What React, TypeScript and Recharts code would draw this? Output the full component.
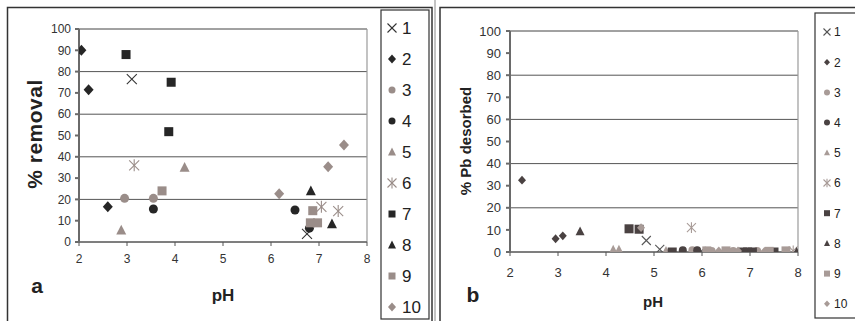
import React from 'react';
import { ScatterChart, Scatter, XAxis, YAxis, CartesianGrid, ReferenceLine } from 'recharts';

type Pt = [number, number];

// Series labels and marker styles (1..10)
const seriesNames = ['1', '2', '3', '4', '5', '6', '7', '8', '9', '10'];
const markerKinds = ['cross', 'diamond', 'circle', 'circle', 'triangle', 'star', 'square', 'triangle', 'square', 'diamond'];
const markerTones = ['line', 'dark', 'light', 'dark', 'light', 'light', 'dark', 'dark', 'light', 'light'];

const phTicks = [2, 3, 4, 5, 6, 7, 8];
const percentTicks = [0, 10, 20, 30, 40, 50, 60, 70, 80, 90, 100];

// Panel a: % removal vs pH  ([pH, %])
const removal1: Pt[] = [[3.1, 76.5], [6.75, 3.8]];
const removal2: Pt[] = [[2.05, 90], [2.2, 71.5], [2.6, 16.5]];
const removal3: Pt[] = [[2.95, 20.5], [3.55, 20.5]];
const removal4: Pt[] = [[3.55, 15.5], [6.5, 15], [6.8, 6.5]];
const removal5: Pt[] = [[2.88, 5.5], [4.2, 35]];
const removal6: Pt[] = [[3.15, 36], [7.05, 16.5], [7.4, 14.5]];
const removal7: Pt[] = [[2.98, 88], [3.92, 75], [3.87, 51.8]];
const removal8: Pt[] = [[6.83, 24], [7.27, 8.5]];
const removal9: Pt[] = [[3.73, 24], [6.87, 14.7], [6.82, 9], [6.97, 9]];
const removal10: Pt[] = [[7.52, 45.5], [7.19, 35.3], [6.17, 22.7]];

// Panel b: % Pb desorbed vs pH  ([pH, %])
const desorb1: Pt[] = [[4.84, 5.2], [5.12, 1.2], [5.98, 0.3]];
const desorb2: Pt[] = [[2.25, 32.5], [2.95, 6], [3.1, 7.3]];
const desorb3: Pt[] = [[5.8, 0.8], [6.2, 0.5], [6.65, 0.5], [7.15, 0.5]];
const desorb4: Pt[] = [[5.6, 0.8], [5.9, 0.8]];
const desorb5: Pt[] = [[4.15, 1], [4.27, 1], [5.25, 0.5]];
const desorb6: Pt[] = [[5.78, 11], [7.9, 0.5]];
const desorb7: Pt[] = [[4.48, 10.5], [4.69, 10.3], [5.38, 0], [6.85, 0], [6.95, 0], [7.05, 0], [7.5, 0]];
const desorb8: Pt[] = [[3.46, 9.3], [7.97, 0]];
const desorb9: Pt[] = [[6.1, 0.5], [6.5, 0.5], [7.4, 0.3], [7.75, 0.5]];
const desorb10: Pt[] = [[4.73, 11], [6.35, 0.5], [6.75, 0.5], [7.3, 0.3]];

const removalSeries = [removal1, removal2, removal3, removal4, removal5, removal6, removal7, removal8, removal9, removal10];
const desorbSeries = [desorb1, desorb2, desorb3, desorb4, desorb5, desorb6, desorb7, desorb8, desorb9, desorb10];

const FONT = '"Liberation Sans", Arial, sans-serif';

type Palette = { dark: string; light: string; line: string };
const paletteA: Palette = { dark: '#262626', light: '#9a8d89', line: '#333333' };
const paletteB: Palette = { dark: '#4a4242', light: '#a89b97', line: '#555555' };

function toneColor(p: Palette, tone: string) {
  return tone === 'dark' ? p.dark : tone === 'light' ? p.light : p.line;
}

function Marker({ kind, cx, cy, size, color }: { kind: string; cx: number; cy: number; size: number; color: string }) {
  const h = size / 2;
  switch (kind) {
    case 'circle':
      return <circle cx={cx} cy={cy} r={h} fill={color} />;
    case 'square':
      return <rect x={cx - h} y={cy - h} width={size} height={size} fill={color} />;
    case 'diamond':
      return <polygon points={`${cx},${cy - h * 1.1} ${cx + h},${cy} ${cx},${cy + h * 1.1} ${cx - h},${cy}`} fill={color} />;
    case 'triangle':
      return <polygon points={`${cx},${cy - h * 1.1} ${cx + h},${cy + h * 0.85} ${cx - h},${cy + h * 0.85}`} fill={color} />;
    case 'cross':
      return (
        <g stroke={color} strokeWidth={1.1}>
          <line x1={cx - h} y1={cy - h} x2={cx + h} y2={cy + h} />
          <line x1={cx - h} y1={cy + h} x2={cx + h} y2={cy - h} />
        </g>
      );
    case 'star':
      return (
        <g stroke={color} strokeWidth={1.1}>
          <line x1={cx - h} y1={cy - h} x2={cx + h} y2={cy + h} />
          <line x1={cx - h} y1={cy + h} x2={cx + h} y2={cy - h} />
          <line x1={cx} y1={cy - h * 1.2} x2={cx} y2={cy + h * 1.2} />
        </g>
      );
    default:
      return null;
  }
}

function toRows(pts: Pt[]) {
  return pts.map(([x, y]) => ({ x, y }));
}

type PanelProps = {
  series: Pt[][];
  palette: Palette;
  left: number;
  width: number;
  margin: { top: number; right: number; bottom: number; left: number };
  yAxisWidth: number;
  tickFont: number;
  xTickMargin: number;
  yTickMargin: number;
  sizes: Record<string, number>;
};

function Panel({ series, palette, left, width, margin, yAxisWidth, tickFont, xTickMargin, yTickMargin, sizes }: PanelProps) {
  const tick = { fontSize: tickFont, fill: '#333', fontFamily: FONT };
  return (
    <div style={{ position: 'absolute', left, top: 0 }}>
      <ScatterChart width={width} height={321} margin={margin}>
        <CartesianGrid horizontal vertical={false} stroke="#555" strokeWidth={1} />
        <XAxis
          type="number"
          dataKey="x"
          domain={[2, 8]}
          ticks={phTicks}
          allowDataOverflow
          tick={tick}
          tickSize={4}
          tickMargin={xTickMargin}
          stroke="#555"
          height={30}
        />
        <YAxis
          type="number"
          dataKey="y"
          domain={[0, 100]}
          ticks={percentTicks}
          allowDataOverflow
          tick={tick}
          tickSize={4}
          tickMargin={yTickMargin}
          stroke="#6a6a6a"
          strokeWidth={2}
          width={yAxisWidth}
        />
        <ReferenceLine y={100} stroke="#9a9a9a" strokeWidth={1.2} ifOverflow="extendDomain" />
        <ReferenceLine x={8} stroke="#9a9a9a" strokeWidth={1.2} ifOverflow="extendDomain" />
        {series.map((pts, i) => {
          const kind = markerKinds[i];
          const color = toneColor(palette, markerTones[i]);
          return (
            <Scatter
              key={seriesNames[i]}
              name={seriesNames[i]}
              data={toRows(pts)}
              isAnimationActive={false}
              shape={(p: any) => <Marker kind={kind} cx={p.cx} cy={p.cy} size={sizes[kind]} color={color} />}
            />
          );
        })}
      </ScatterChart>
    </div>
  );
}

function LegendBox({ x, y, width, height, palette, markerX, textX, firstY, step, fontSize, sizes }: {
  x: number; y: number; width: number; height: number; palette: Palette; markerX: number; textX: number;
  firstY: number; step: number; fontSize: number; sizes: Record<string, number>;
}) {
  return (
    <g>
      <rect x={x} y={y} width={width} height={height} fill="#fff" stroke="#333" strokeWidth={1.2} />
      {seriesNames.map((name, i) => {
        const cy = firstY + i * step;
        const kind = markerKinds[i];
        return (
          <g key={name}>
            <Marker kind={kind} cx={markerX} cy={cy} size={sizes[kind]} color={toneColor(palette, markerTones[i])} />
            <text x={textX} y={cy} dy="0.36em" fontSize={fontSize} fontFamily={FONT} fill="#222">{name}</text>
          </g>
        );
      })}
    </g>
  );
}

const sizesA: Record<string, number> = { circle: 9, square: 9, diamond: 10, triangle: 10, cross: 10, star: 10 };
const sizesB: Record<string, number> = { circle: 8, square: 9, diamond: 8, triangle: 9, cross: 9, star: 9 };
const legendSizesA: Record<string, number> = { circle: 7, square: 7, diamond: 8, triangle: 8, cross: 9, star: 9 };
const legendSizesB: Record<string, number> = { circle: 6, square: 6, diamond: 6, triangle: 6, cross: 7, star: 7 };

export default function App() {
  return (
    <div style={{ position: 'absolute', left: 0, top: 0, width: 855, height: 321, background: '#fff', overflow: 'hidden' }}>
      <Panel
        series={removalSeries}
        palette={paletteA}
        left={0}
        width={435}
        margin={{ top: 29, right: 68, bottom: 49, left: 39 }}
        yAxisWidth={40}
        tickFont={12}
        xTickMargin={8}
        yTickMargin={4}
        sizes={sizesA}
      />
      <Panel
        series={desorbSeries}
        palette={paletteB}
        left={435}
        width={420}
        margin={{ top: 31, right: 57, bottom: 39, left: 35 }}
        yAxisWidth={40}
        tickFont={13}
        xTickMargin={12}
        yTickMargin={5}
        sizes={sizesB}
      />
      <svg width={855} height={321} style={{ position: 'absolute', left: 0, top: 0, pointerEvents: 'none' }}>
        {/* panel frames */}
        <rect x={7.5} y={7.5} width={424.5} height={330} fill="none" stroke="#333" strokeWidth={1.5} />
        <rect x={440} y={7.5} width={430} height={330} fill="none" stroke="#333" strokeWidth={1.5} />
        <line x1={435} y1={0} x2={435} y2={321} stroke="#888" strokeWidth={1} />
        <LegendBox x={381} y={10} width={48} height={309} palette={paletteA} markerX={392} textX={402}
          firstY={28} step={31} fontSize={17} sizes={legendSizesA} />
        <LegendBox x={815} y={13} width={60} height={305} palette={paletteB} markerX={827} textX={834}
          firstY={32} step={30.2} fontSize={12} sizes={legendSizesB} />
        {/* panel a titles */}
        <text transform="translate(42,134) rotate(-90)" textAnchor="middle" fontSize={21} fontWeight="bold"
          fontFamily={FONT} fill="#222" letterSpacing={0.5}>% removal</text>
        <text x={223} y={301} textAnchor="middle" fontSize={17} fontWeight="bold" fontFamily={FONT} fill="#222">pH</text>
        <text x={37} y={293} textAnchor="middle" fontSize={21} fontWeight="bold" fontFamily={FONT} fill="#222">a</text>
        {/* panel b titles */}
        <text transform="translate(471,141) rotate(-90)" textAnchor="middle" fontSize={15} fontWeight="bold"
          fontFamily={FONT} fill="#222">% Pb desorbed</text>
        <text x={653} y={307} textAnchor="middle" fontSize={15} fontWeight="bold" fontFamily={FONT} fill="#222">pH</text>
        <text x={473} y={302} textAnchor="middle" fontSize={21} fontWeight="bold" fontFamily={FONT} fill="#222">b</text>
      </svg>
    </div>
  );
}
